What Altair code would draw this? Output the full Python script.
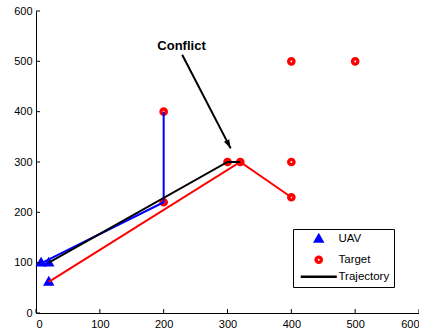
import math
import altair as alt
import pandas as pd

# ---- data ----
uav_x = [8, 20, 20]
uav_y = [100, 100, 62]
target_x = [200, 200, 300, 320, 400, 400, 400, 500]
target_y = [400, 220, 300, 300, 300, 230, 500, 500]

blue_x = [10, 200, 200]
blue_y = [100, 220, 400]
red_x = [20, 320, 400]
red_y = [62, 300, 230]
black_x = [20, 300, 320]
black_y = [100, 300, 300]

ticks = [0, 100, 200, 300, 400, 500, 600]
series = ["UAV", "Target", "Trajectory"]

ann_text = "Conflict"
ann_text_xy = (228, 531)
arrow_from = (229, 513)
arrow_to = (305, 327)

W, H = 383, 302
FONT = "Liberation Sans"

pts = pd.DataFrame(
    {"series": ["UAV"] * len(uav_x) + ["Target"] * len(target_x),
     "x": uav_x + target_x, "y": uav_y + target_y}
)
rows = []
for name, xs_, ys_ in [("blue", blue_x, blue_y), ("red", red_x, red_y), ("black", black_x, black_y)]:
    for i, (a, b) in enumerate(zip(xs_, ys_)):
        rows.append({"path": name, "o": i, "x": a, "y": b})
lines = pd.DataFrame(rows)
tick_df = pd.DataFrame({"v": ticks})

xs = alt.Scale(domain=[0, 600], nice=False, zero=False)
ys = alt.Scale(domain=[0, 600], nice=False, zero=False)
xax = alt.Axis(values=ticks, tickSize=0, grid=False, labelFont=FONT, labelFontSize=11,
               labelColor="black", domainColor="black", labelPadding=5, title=None)
yax = alt.Axis(values=ticks, tickSize=0, grid=False, labelFont=FONT, labelFontSize=11,
               labelColor="black", domainColor="black", labelPadding=4, title=None)

legend = alt.Legend(
    title=None, orient="none", legendX=257, legendY=218,
    strokeColor="black", fillColor="white", padding=4,
    labelFont=FONT, labelFontSize=11.5, labelColor="black",
    rowPadding=0, symbolOffset=16, labelOffset=14,
)

# point scales interpolate between two end values: UAV, Target (middle), Trajectory
points = alt.Chart(pts).mark_point(filled=True, opacity=1, strokeJoin="miter").encode(
    x=alt.X("x:Q", scale=xs, axis=xax),
    y=alt.Y("y:Q", scale=ys, axis=yax),
    fill=alt.Fill("series:N", scale=alt.Scale(domain=series, range=["blue", "white", "black"]), legend=legend),
    stroke=alt.Stroke("series:N", scale=alt.Scale(domain=series, range=["blue", "red", "black"]), legend=legend),
    shape=alt.Shape("series:N", scale=alt.Scale(domain=series, range=["triangle-up", "circle", "M-5.7,0L5.7,0"]), legend=legend),
    size=alt.Size("series:N", scale=alt.Scale(domain=series, range=[16, 40]), legend=legend),
    strokeWidth=alt.StrokeWidth("series:N", scale=alt.Scale(domain=series, range=[4.3, 2.5]), legend=legend),
)

line_layer = alt.Chart(lines).mark_line(strokeWidth=2).encode(
    x="x:Q", y="y:Q", order="o:Q",
    color=alt.Color("path:N", scale=alt.Scale(domain=["blue", "red", "black"], range=["#0000ff", "#ff0000", "#000000"]), legend=None),
)

xticks = alt.Chart(tick_df).mark_rule(color="black", strokeWidth=1).encode(
    x="v:Q", y=alt.value(H), y2=alt.value(H - 4))
yticks = alt.Chart(tick_df).mark_rule(color="black", strokeWidth=1).encode(
    y="v:Q", x=alt.value(0), x2=alt.value(4))

arrow_df = pd.DataFrame({"x": [arrow_from[0], arrow_to[0]], "y": [arrow_from[1], arrow_to[1]], "o": [0, 1]})
arrow_line = alt.Chart(arrow_df).mark_line(color="black", strokeWidth=2).encode(x="x:Q", y="y:Q", order="o:Q")
dxp = (arrow_to[0] - arrow_from[0]) * W / 600
dyp = -(arrow_to[1] - arrow_from[1]) * H / 600
ang = math.degrees(math.atan2(dxp, -dyp)) % 360
head_df = pd.DataFrame({"x": [arrow_to[0]], "y": [arrow_to[1]]})
arrow_head = alt.Chart(head_df).mark_point(
    shape="M0,0L-0.65,2L0.65,2Z", filled=True, color="black", opacity=1, size=80, angle=ang
).encode(x="x:Q", y="y:Q")

text_df = pd.DataFrame({"x": [ann_text_xy[0]], "y": [ann_text_xy[1]], "t": [ann_text]})
text = alt.Chart(text_df).mark_text(font=FONT, fontSize=13, fontWeight="bold", color="black").encode(
    x="x:Q", y="y:Q", text="t:N")

chart = alt.layer(points, line_layer, xticks, yticks, arrow_line, arrow_head, text).properties(
    width=W, height=H,
    autosize=alt.AutoSizeParams(type="none"),
    padding={"left": 36, "top": 11, "right": 0, "bottom": 22},
).configure_view(stroke=None).configure_axis(domainWidth=1)

chart.save("out.html", embed_options={"renderer": "svg", "actions": False})
